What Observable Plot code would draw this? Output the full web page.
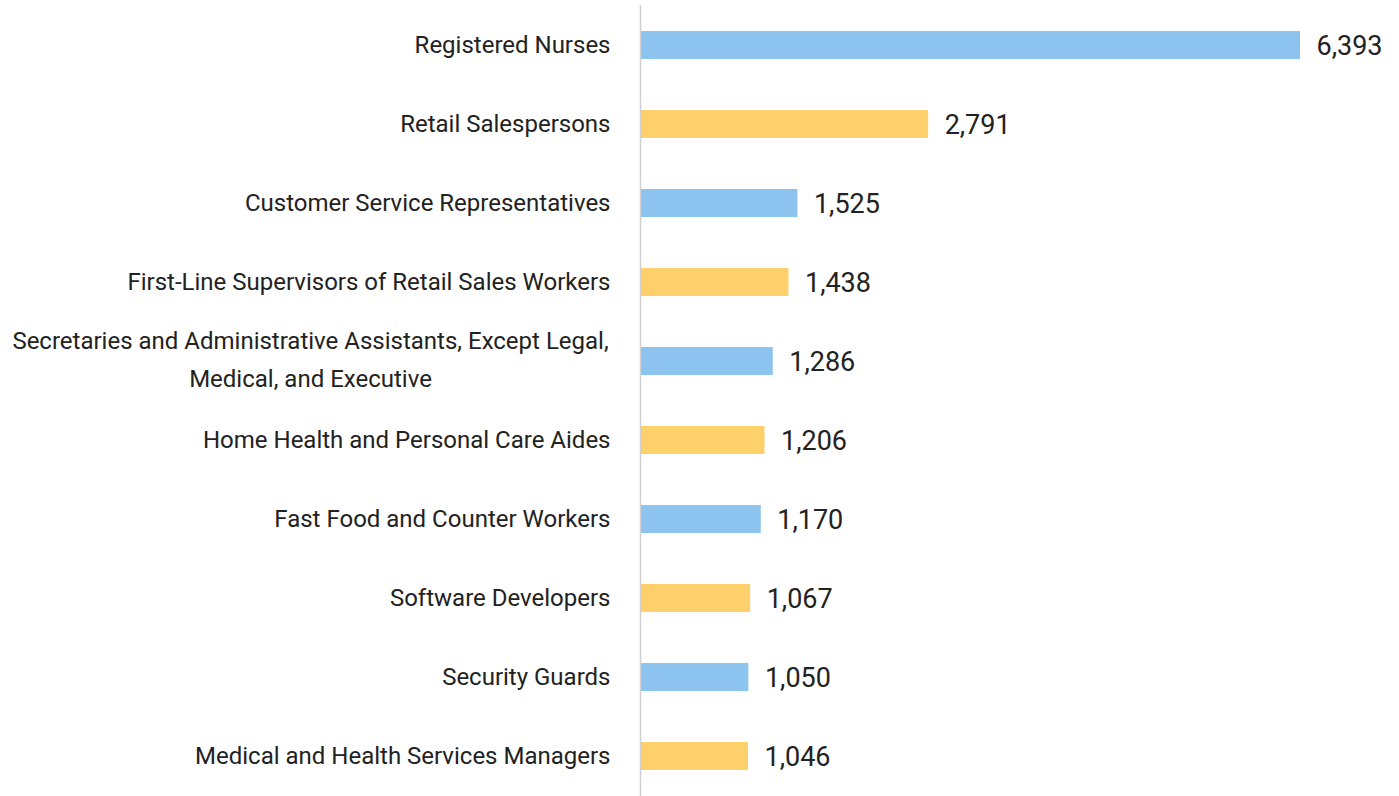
<!DOCTYPE html>
<html><head><meta charset="utf-8">
<script src="https://cdn.jsdelivr.net/npm/d3@7"></script>
<script src="https://cdn.jsdelivr.net/npm/@observablehq/plot@0.6"></script>
<style>body{margin:0;background:#fff}</style>
</head><body><div id="chart"></div>
<script>
const occupations = [
  "Registered Nurses",
  "Retail Salespersons",
  "Customer Service Representatives",
  "First-Line Supervisors of Retail Sales Workers",
  "Secretaries and Administrative Assistants, Except Legal,\nMedical, and Executive",
  "Home Health and Personal Care Aides",
  "Fast Food and Counter Workers",
  "Software Developers",
  "Security Guards",
  "Medical and Health Services Managers"
];
const postings = [6393, 2791, 1525, 1438, 1286, 1206, 1170, 1067, 1050, 1046];

const data = occupations.map((name, i) => ({name, value: postings[i], idx: i}));
const single = data.filter(d => !d.name.includes("\n"));
const multi = data.filter(d => d.name.includes("\n"));
const FONT = "Roboto";
const fmt = d3.format(",");

const chart = Plot.plot({
  width: 1399, height: 796,
  marginLeft: 640, marginRight: 0, marginTop: 5, marginBottom: 0,
  style: {fontFamily: FONT, background: "#fff"},
  x: {domain: [0, 6393], range: [640, 1300], axis: null},
  y: {domain: occupations, paddingInner: 0.646, paddingOuter: 0.323, axis: null},
  marks: [
    Plot.barX(data, {y: "name", x: "value", fill: d => d.idx % 2 ? "#fdd06b" : "#8cc3ef"}),
    Plot.ruleX([0], {stroke: "#d0d0d0", strokeWidth: 1.5}),
    Plot.text(data, {y: "name", x: "value", text: d => fmt(d.value), textAnchor: "start", dx: 16, dy: 1, fontSize: 27, fill: "#222"}),
    Plot.text(single, {y: "name", x: 0, text: "name", textAnchor: "end", dx: -30, fontSize: 24, fill: "#222"}),
    Plot.text(multi, {y: "name", x: 0, text: "name", textAnchor: "middle", dx: -330, dy: -6, fontSize: 24, lineHeight: 1.58, fill: "#222"})
  ]
});
document.getElementById("chart").appendChild(chart);
</script>
</body></html>
